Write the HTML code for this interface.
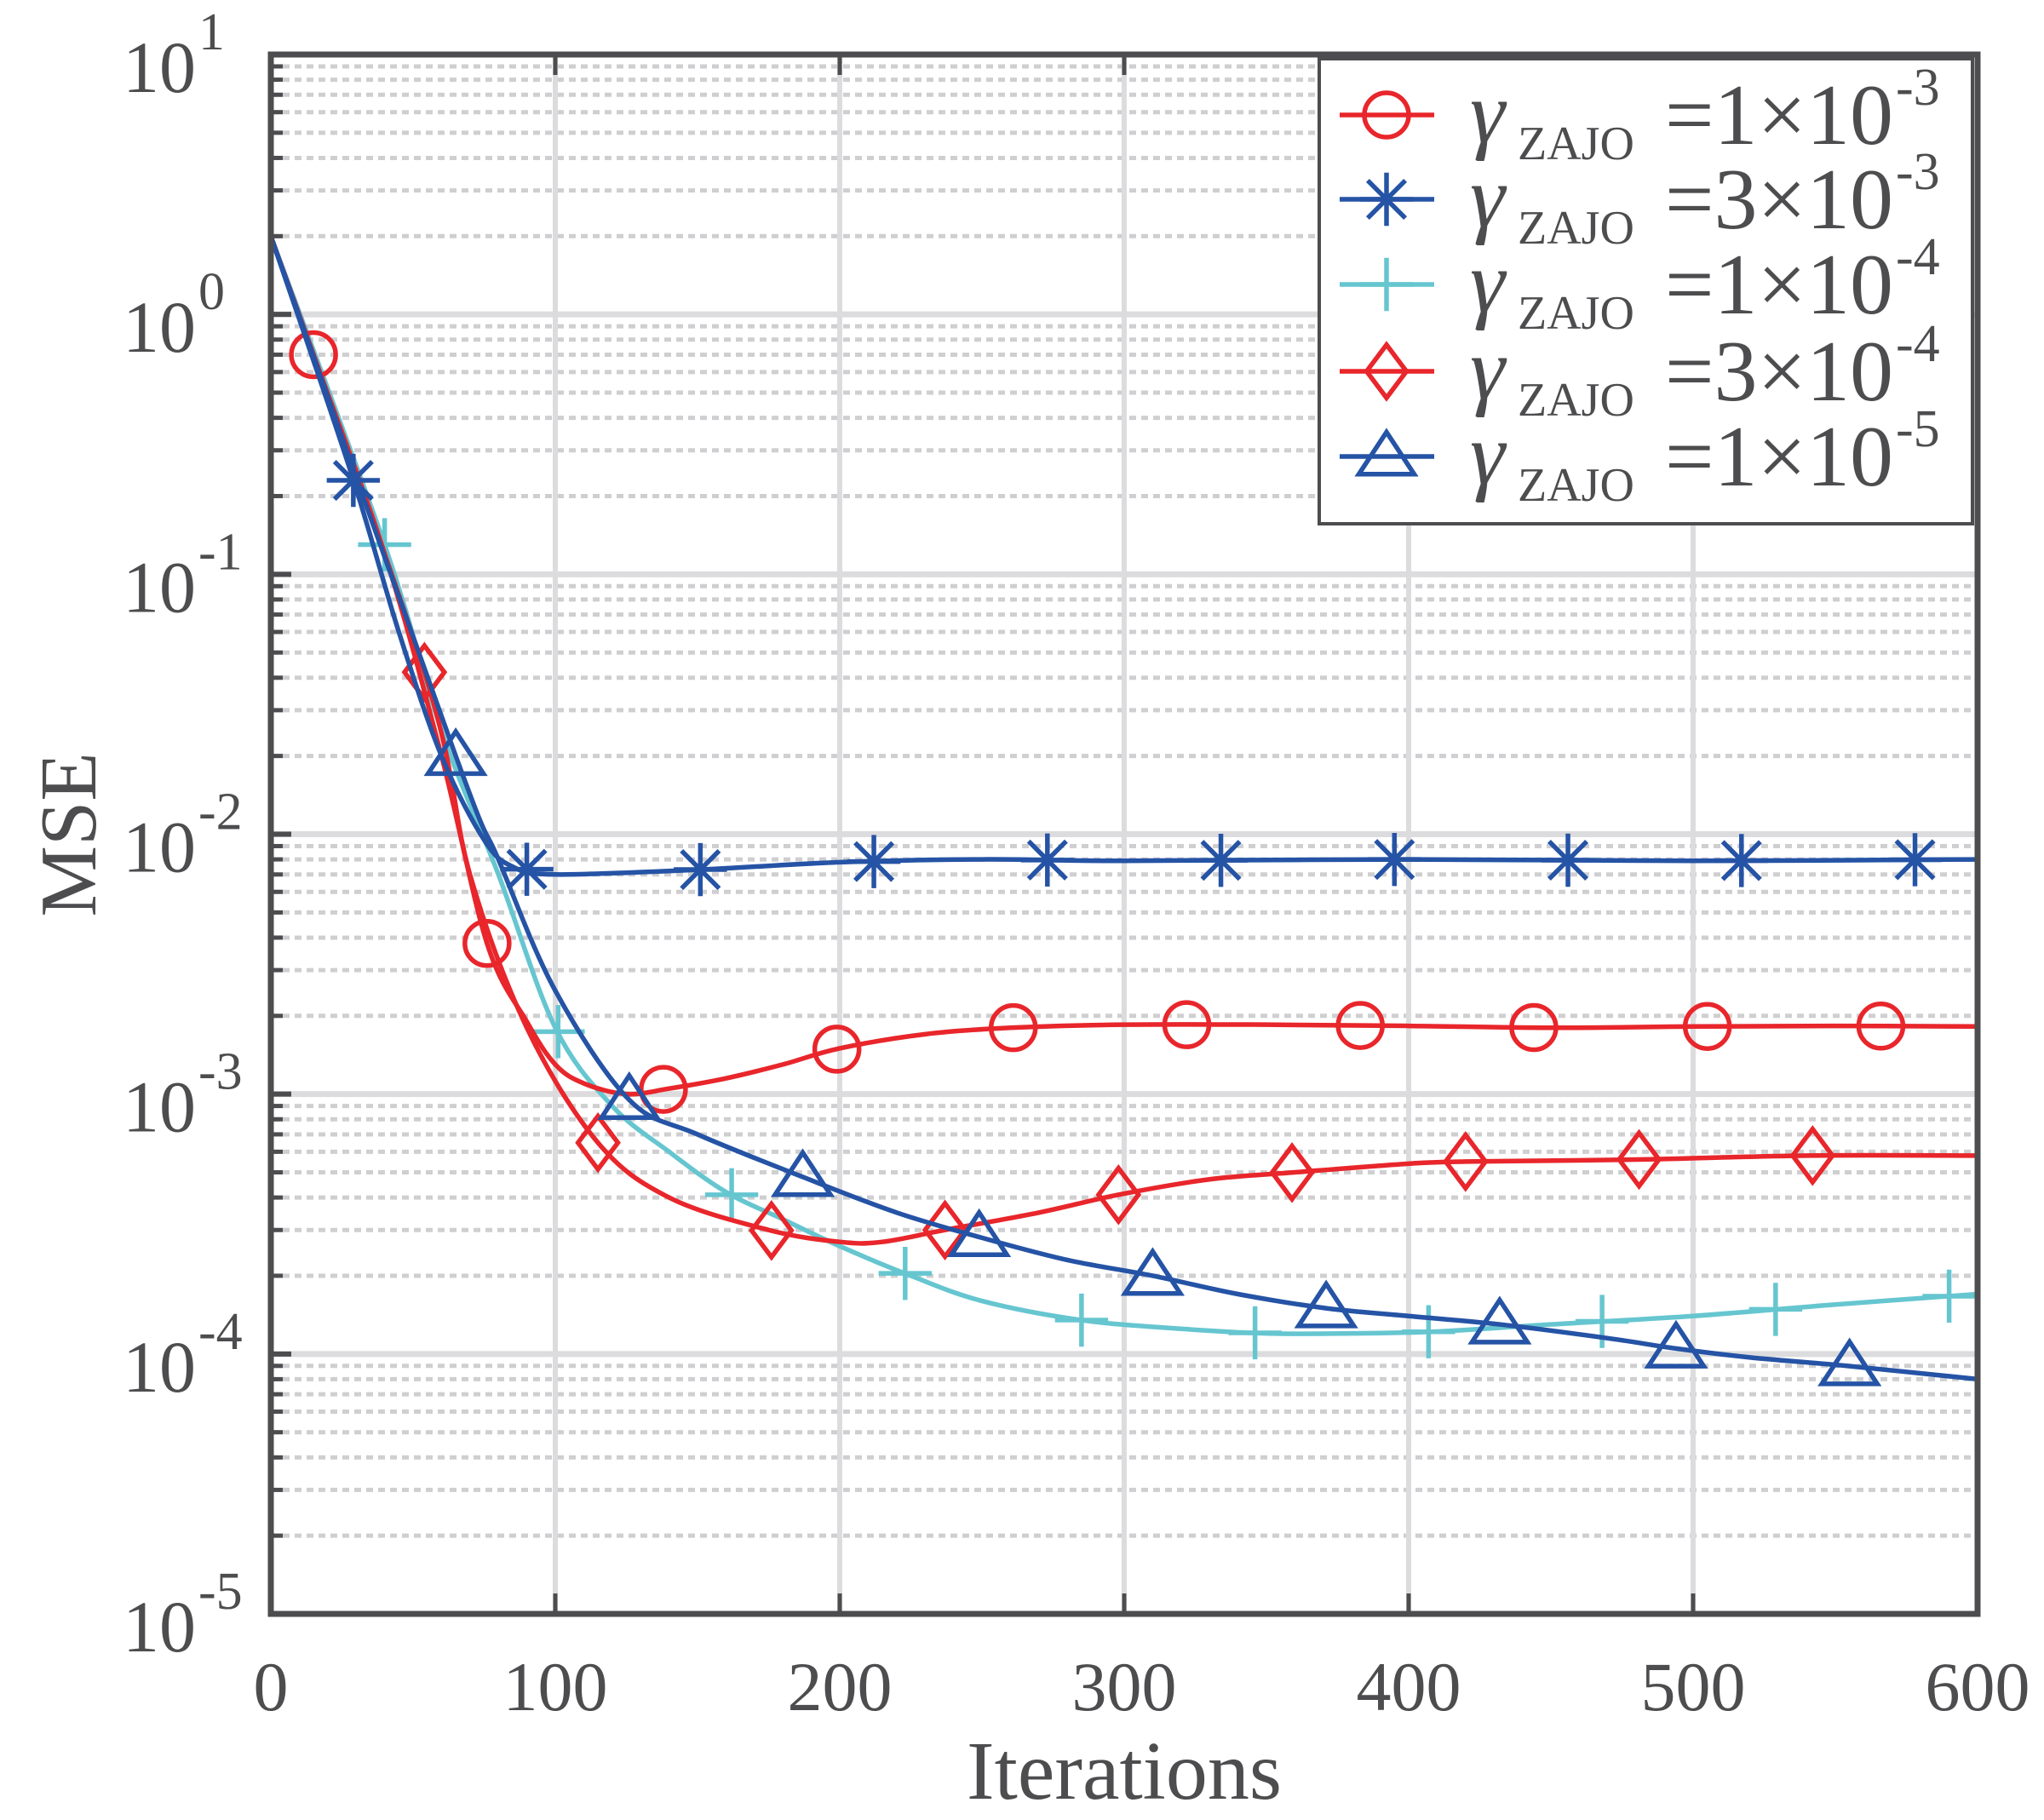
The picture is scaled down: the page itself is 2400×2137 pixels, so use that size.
<!DOCTYPE html>
<html><head><meta charset="utf-8"><style>
html,body{margin:0;padding:0;background:#fff}
svg{display:block}
text{font-family:"Liberation Serif",serif;fill:#4d4d4f}
</style></head><body>
<svg id="chart" xmlns="http://www.w3.org/2000/svg" width="2400" height="2137" viewBox="0 0 2400 2137">
<g id="grid"></g>
<g id="series"></g>
<g id="axes"></g>
<g id="legend"></g>
</svg>
<script>
const xTicks=[0,100,200,300,400,500,600];
const yDecades=[-5,-4,-3,-2,-1,0,1];
const seriesNames=["1e-3","3e-3","1e-4","3e-4","1e-5"];
const legendExp=["-3","-3","-4","-4","-5"];
const legendMant=["1","3","1","3","1"];
const s1x=[0,15,40,60,76,90,100,110,125,140,160,180,200,230,260,300,350,400,450,500,550,600];
const s1y=[2,0.7,0.12,0.02,0.0038,0.0019,0.0013,0.0011,0.001,0.00105,0.00115,0.0013,0.0015,0.0017,0.0018,0.00185,0.00185,0.00183,0.0018,0.00182,0.00183,0.00182];
const s2x=[0,28,45,60,75,85,100,150,200,250,300,400,500,600];
const s2y=[2,0.25,0.06,0.02,0.0095,0.0075,0.007,0.0073,0.0078,0.008,0.0079,0.008,0.0079,0.008];
const s3x=[0,40,60,80,100,120,140,160,180,200,225,250,285,320,350,380,410,450,500,550,600];
const s3y=[2,0.13,0.025,0.007,0.0018,0.0009,0.0006,0.00042,0.00033,0.00026,0.0002,0.00016,0.000135,0.000125,0.00012,0.00012,0.000122,0.00013,0.00014,0.000155,0.00017];
const s4x=[0,54,70,90,115,140,175,200,215,237,270,298,330,360,400,420,480,540,600];
const s4y=[2,0.042,0.007,0.0018,0.00065,0.0004,0.0003,0.00027,0.00027,0.0003,0.00035,0.00041,0.00047,0.0005,0.00054,0.00055,0.00056,0.00058,0.00058];
const s5x=[0,65,80,100,126,150,187,220,250,280,310,340,371,400,432,470,494,520,554,600];
const s5y=[2,0.02,0.008,0.0025,0.00095,0.0007,0.00048,0.00035,0.00028,0.00023,0.0002,0.00017,0.00015,0.00014,0.00013,0.000115,0.000105,0.000097,0.00009,0.00008];
const m1=[15,76,138,199,261,322,383,444,505,566];
const m2=[29,90,151,212,273,334,395,456,517,578];
const m3=[40,101,162,223,285,346,407,468,529,590];
const m4=[54,115,176,237,298,359,420,481,542];
const m5=[65,126,187,249,310,371,432,494,555];

const L=318,R=2322,T=64,B=1895;
const NS="http://www.w3.org/2000/svg";
const X=v=>L+(v-0)/(600-0)*(R-L);
const Y=v=>B-(Math.log10(v)+5)/6*(B-T);
function el(tag,attrs,parent){const e=document.createElementNS(NS,tag);for(const k in attrs)e.setAttribute(k,attrs[k]);parent.appendChild(e);return e;}
const grid=document.getElementById('grid'),axes=document.getElementById('axes'),ser=document.getElementById('series'),leg=document.getElementById('legend');

for(const d of yDecades){
  for(let m=2;m<=9&&d<1;m++){const y=Y(m*Math.pow(10,d));
    const g=el('line',{x1:L,x2:R,y1:y,y2:y,stroke:'#cfcfd1','stroke-width':5,'stroke-dasharray':'8 6'},grid);
    
    const t=el('line',{x1:L,x2:L+14,y1:y,y2:y,stroke:'#4d4d4f','stroke-width':5},axes);
    }
  if(d>-5&&d<1){const y=Y(Math.pow(10,d));
    const g=el('line',{x1:L,x2:R,y1:y,y2:y,stroke:'#dcdcde','stroke-width':7},grid);
    
    const t=el('line',{x1:L,x2:L+24,y1:y,y2:y,stroke:'#4d4d4f','stroke-width':6},axes);
    }
}
for(const v of xTicks){const x=X(v);
  if(v>0&&v<600){const g=el('line',{x1:x,x2:x,y1:T,y2:B,stroke:'#dcdcde','stroke-width':6},grid);
    
    const t=el('line',{x1:x,x2:x,y1:B,y2:B-24,stroke:'#4d4d4f','stroke-width':5},axes);
    
    const t2=el('line',{x1:x,x2:x,y1:T,y2:T+24,stroke:'#4d4d4f','stroke-width':5},axes);
    }
  const lb=el('text',{x:x,y:2008,'font-size':82,'text-anchor':'middle'},axes);lb.textContent=v;
  
}
for(const d of yDecades){const y=Y(Math.pow(10,d));
  const lb=el('text',{x:230,y:y+44,'font-size':86,'text-anchor':'end'},axes);lb.textContent='10';
  
  const sp=el('text',{x:233,y:y-6,'font-size':62},axes);sp.textContent=(d<0?'-':'')+Math.abs(d);
  
}
const box=el('rect',{x:L,y:T,width:R-L,height:B-T,fill:'none',stroke:'#4d4d4f','stroke-width':7},axes);

const xl=el('text',{x:1320,y:2112,'font-size':98,'text-anchor':'middle'},axes);xl.textContent='Iterations';

const yl=el('text',{x:0,y:0,'font-size':94,'text-anchor':'middle',transform:'translate(112,980) rotate(-90)'},axes);yl.textContent='MSE';


function interp(xs,ys,v){for(let i=1;i<xs.length;i++){if(v<=xs[i]){const t=(v-xs[i-1])/(xs[i]-xs[i-1]);return Math.pow(10,Math.log10(ys[i-1])+t*(Math.log10(ys[i])-Math.log10(ys[i-1])));}}return ys[ys.length-1];}
function pathFor(xs,ys){const P=xs.map((v,i)=>[X(v),Y(ys[i])]);let d='M'+P[0][0]+','+P[0][1];
  for(let i=0;i<P.length-1;i++){const p0=P[Math.max(0,i-1)],p1=P[i],p2=P[i+1],p3=P[Math.min(P.length-1,i+2)];
    d+=' C'+(p1[0]+(p2[0]-p0[0])/6)+','+(p1[1]+(p2[1]-p0[1])/6)+' '+(p2[0]-(p3[0]-p1[0])/6)+','+(p2[1]-(p3[1]-p1[1])/6)+' '+p2[0]+','+p2[1];}
  return d;}
function marker(type,cx,cy,col,parent){const s=26;let e;
  if(type==='o')e=el('circle',{cx:cx,cy:cy,r:s,fill:'none',stroke:col,'stroke-width':5.5},parent);
  else if(type==='d')e=el('polygon',{points:`${cx},${cy-s*1.2} ${cx+s*0.9},${cy} ${cx},${cy+s*1.2} ${cx-s*0.9},${cy}`,fill:'none',stroke:col,'stroke-width':5.5},parent);
  else if(type==='^')e=el('polygon',{points:`${cx},${cy-s*1.1} ${cx+s*1.25},${cy+s*0.8} ${cx-s*1.25},${cy+s*0.8}`,fill:'none',stroke:col,'stroke-width':5.5},parent);
  else if(type==='+')e=el('path',{d:`M${cx-s*1.2},${cy}H${cx+s*1.2}M${cx},${cy-s*1.2}V${cy+s*1.2}`,fill:'none',stroke:col,'stroke-width':5.5},parent);
  else e=el('path',{d:`M${cx-s*1.2},${cy}H${cx+s*1.2}M${cx},${cy-s*1.2}V${cy+s*1.2}M${cx-s*0.85},${cy-s*0.85}L${cx+s*0.85},${cy+s*0.85}M${cx-s*0.85},${cy+s*0.85}L${cx+s*0.85},${cy-s*0.85}`,fill:'none',stroke:col,'stroke-width':5.5},parent);
  return e;}
const defs=[[s1x,s1y,m1,'o','#e8262b'],[s2x,s2y,m2,'*','#2553a5'],[s3x,s3y,m3,'+','#66c6d0'],[s4x,s4y,m4,'d','#e8262b'],[s5x,s5y,m5,'^','#2553a5']];
const order=[2,0,3,4,1];
for(const i of order){const [xs,ys,ms,mt,col]=defs[i];
  const g=el('g',{},ser);
  const p=el('path',{d:pathFor(xs,ys),fill:'none',stroke:col,'stroke-width':5.5},g);
  
  for(const m of ms){const mk=marker(mt,X(m),Y(interp(xs,ys,m)),col,g);
    }
}

const lb=el('rect',{x:1549,y:69,width:767,height:546,fill:'#fff',stroke:'#4d4d4f','stroke-width':4},leg);

const ly=[135,234,334,436,536];
for(let i=0;i<5;i++){const [,,,mt,col]=defs[i];const y=ly[i];
  const g=el('g',{},leg);
  const ln=el('line',{x1:1573,x2:1684,y1:y,y2:y,stroke:col,'stroke-width':5.5},g);
  
  const mk=marker(mt,1628,y,col,g);
  const t1=el('text',{x:1726,y:y+32,'font-size':104,'font-style':'italic'},g);t1.textContent='γ';
  
  const t2=el('text',{x:1782,y:y+52,'font-size':56},g);t2.textContent='ZAJO';
  
  const t3=el('text',{x:1955,y:y+34,'font-size':102},g);t3.textContent='='+legendMant[i]+'×10';
  
  const t4=el('text',{x:2226,y:y-12,'font-size':62},g);t4.textContent=legendExp[i];
  
}
</script>
</body></html>
